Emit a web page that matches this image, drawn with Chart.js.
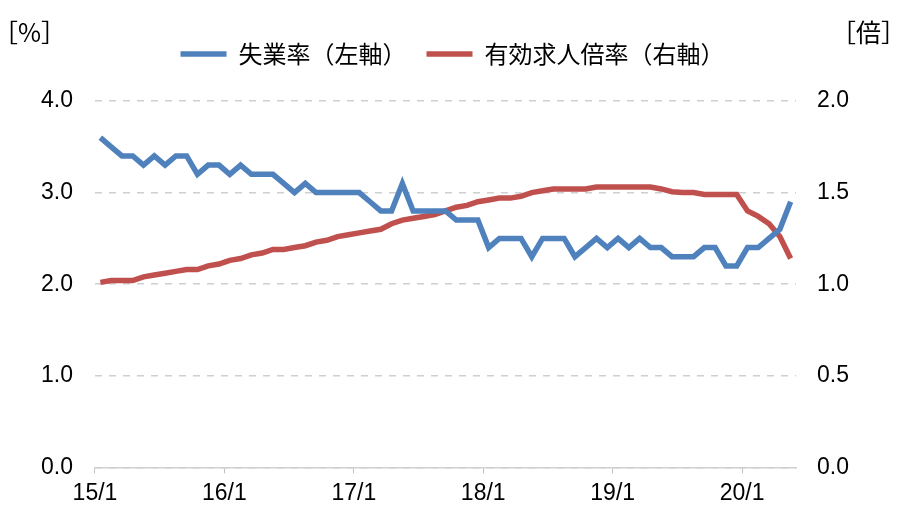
<!DOCTYPE html>
<html lang="ja">
<head>
  <meta charset="UTF-8">
  <title>失業率と有効求人倍率</title>
  <script src="https://cdn.jsdelivr.net/npm/chart.js"></script>
  <style>
    body {
      margin: 0;
      background-color: #fff;
    }
    .chart-box {
      width: 899px;
      height: 510px;
    }
  </style>
</head>
<body>
  <div class="chart-box">
    <canvas id="labourChart"></canvas>
  </div>

  <script>
    // months 15/1 .. 20/5
    const years = ['15', '16', '17', '18', '19', '20'];
    const months = [];
    years.forEach(y => {
      for (let m = 1; m <= 12; m++) months.push(y + '/' + m);
    });
    months.length = 65;

    // 失業率 (%), left axis
    const unemployment = [
      3.6, 3.5, 3.4, 3.4, 3.3, 3.4, 3.3, 3.4, 3.4, 3.2, 3.3, 3.3,
      3.2, 3.3, 3.2, 3.2, 3.2, 3.1, 3.0, 3.1, 3.0, 3.0, 3.0, 3.0,
      3.0, 2.9, 2.8, 2.8, 3.1, 2.8, 2.8, 2.8, 2.8, 2.7, 2.7, 2.7,
      2.4, 2.5, 2.5, 2.5, 2.3, 2.5, 2.5, 2.5, 2.3, 2.4, 2.5, 2.4,
      2.5, 2.4, 2.5, 2.4, 2.4, 2.3, 2.3, 2.3, 2.4, 2.4, 2.2, 2.2,
      2.4, 2.4, 2.5, 2.6, 2.9
    ];

    // 有効求人倍率 (倍), right axis
    const jobsRatio = [
      1.01, 1.02, 1.02, 1.02, 1.04, 1.05, 1.06, 1.07, 1.08, 1.08, 1.10, 1.11,
      1.13, 1.14, 1.16, 1.17, 1.19, 1.19, 1.20, 1.21, 1.23, 1.24, 1.26, 1.27,
      1.28, 1.29, 1.30, 1.33, 1.35, 1.36, 1.37, 1.38, 1.40, 1.42, 1.43, 1.45,
      1.46, 1.47, 1.47, 1.48, 1.50, 1.51, 1.52, 1.52, 1.52, 1.52, 1.53, 1.53,
      1.53, 1.53, 1.53, 1.53, 1.52, 1.505, 1.50, 1.50, 1.49, 1.49, 1.49, 1.49,
      1.40, 1.37, 1.33, 1.26, 1.14
    ];

    const leftTicks = [0, 1, 2, 3, 4];
    const rightTicks = [0, 0.5, 1, 1.5, 2];

    // put each month in the middle of its slot so year ticks sit on the boundaries
    const toPoints = arr => arr.map((v, i) => ({ x: i + 0.5, y: v }));

    const numFont = { family: "'Liberation Sans', Arial, sans-serif", size: 23 };
    const jpFont = { family: "'Noto Sans CJK JP', sans-serif", size: 24 };

    // axis unit captions at the top corners
    const unitLabels = {
      id: 'unitLabels',
      afterDraw(chart) {
        const c = chart.ctx;
        c.save();
        c.fillStyle = '#000';
        c.textBaseline = 'middle';
        c.font = "25px 'Noto Sans CJK JP', sans-serif";
        c.textAlign = 'left';
        c.fillText('［%］', -7, 32);
        c.textAlign = 'right';
        c.fillText('［倍］', 906, 32);
        c.restore();
      }
    };

    // leave a gap between the legend and the plot, nudge it right a little
    const legendGap = {
      id: 'legendGap',
      beforeInit(chart) {
        const fit = chart.legend.fit;
        chart.legend.fit = function () {
          fit.call(this);
          this.height += 25;
        };
      },
      afterLayout(chart) {
        chart.legend.left += 8;
        chart.legend.right += 8;
      }
    };

    const ctx = document.getElementById('labourChart').getContext('2d');
    const labourChart = new Chart(ctx, {
      type: 'line',
      data: {
        datasets: [{
          label: '失業率（左軸）',
          data: toPoints(unemployment),
          borderColor: '#4F81BD',
          backgroundColor: '#4F81BD',
          borderWidth: 5.5,
          pointRadius: 0,
          tension: 0,
          yAxisID: 'y'
        }, {
          label: '有効求人倍率（右軸）',
          data: toPoints(jobsRatio),
          borderColor: '#C0504D',
          backgroundColor: '#C0504D',
          borderWidth: 5.5,
          pointRadius: 0,
          tension: 0,
          yAxisID: 'y2'
        }]
      },
      options: {
        responsive: true,
        maintainAspectRatio: false,
        animation: false,
        layout: {
          padding: { top: 22, left: 19, right: 29, bottom: -3 }
        },
        plugins: {
          tooltip: { enabled: false },
          legend: {
            position: 'top',
            labels: {
              usePointStyle: true,
              pointStyle: 'line',
              pointStyleWidth: 46,
              color: '#000',
              font: jpFont,
              padding: 20
            }
          }
        },
        scales: {
          x: {
            type: 'linear',
            min: 0,
            max: months.length,
            afterBuildTicks: axis => {
              axis.ticks = axis.ticks.filter(t => t.value % 12 === 0 && t.value < months.length);
            },
            ticks: {
              stepSize: 12,
              autoSkip: false,
              maxRotation: 0,
              color: '#000',
              font: numFont,
              padding: 6,
              callback: v => months[v]
            },
            grid: {
              drawOnChartArea: false,
              drawTicks: true,
              tickLength: 6,
              color: '#bfbfbf'
            },
            border: { color: '#d0d0d0', width: 1.5 }
          },
          y: {
            position: 'left',
            min: leftTicks[0],
            max: leftTicks[leftTicks.length - 1],
            afterBuildTicks: axis => {
              axis.ticks = leftTicks.map(v => ({ value: v }));
            },
            ticks: {
              color: '#000',
              font: numFont,
              padding: 22,
              callback: v => v.toFixed(1)
            },
            grid: {
              color: '#cfcfcf',
              lineWidth: 1.5,
              drawTicks: false
            },
            border: { display: false, dash: [7, 7] }
          },
          y2: {
            position: 'right',
            min: rightTicks[0],
            max: rightTicks[rightTicks.length - 1],
            afterBuildTicks: axis => {
              axis.ticks = rightTicks.map(v => ({ value: v }));
            },
            ticks: {
              color: '#000',
              font: numFont,
              padding: 21,
              callback: v => v.toFixed(1)
            },
            grid: { drawOnChartArea: false, drawTicks: false },
            border: { display: false }
          }
        }
      },
      plugins: [unitLabels, legendGap]
    });
  </script>
</body>
</html>
